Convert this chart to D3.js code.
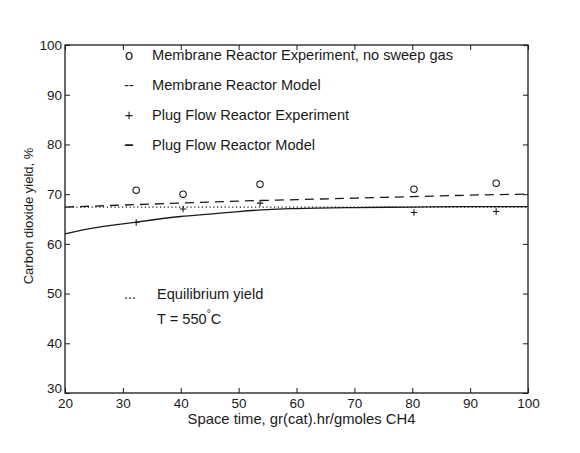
<!DOCTYPE html>
<html><head><meta charset="utf-8">
<script src="https://cdn.jsdelivr.net/npm/d3@7/dist/d3.min.js"></script>
<style>
body{margin:0;background:#fff;}
text{font-family:"Liberation Sans",Arial,Helvetica,sans-serif;fill:#1a1a1a;}
</style></head><body>
<svg id="c" width="580" height="453"></svg>
<script>
// Data
const xTicks = [20,30,40,50,60,70,80,90,100];
const yTicks = [30,40,50,60,70,80,90,100];
const membraneExpX = [32.3, 40.4, 53.7, 80.3, 94.5];
const membraneExpY = [70.8, 70.0, 72.0, 71.0, 72.2];
const plugExpX = [32.3, 40.4, 53.7, 80.3, 94.5];
const plugExpY = [64.3, 67.0, 68.2, 66.3, 66.5];
const membraneModelX = [20,30,40,50,60,70,80,90,100];
const membraneModelY = [67.4,67.8,68.2,68.6,68.9,69.2,69.5,69.8,70.0];
const plugModelX = [20,25,30,35,40,45,50,55,60,70,80,90,100];
const plugModelY = [62.0,63.2,64.0,64.8,65.5,66.0,66.5,66.9,67.1,67.3,67.4,67.5,67.5];
const equilX = [20,100];
const equilY = [67.4,67.4];
const legendLabels = ["Membrane Reactor Experiment, no sweep gas","Membrane Reactor Model","Plug Flow Reactor Experiment","Plug Flow Reactor Model"];
const legendSymbols = ["o","--","+","\u2013"];

const svg = d3.select("#c");
const L=65,R=528,T=45,B=393;
const x = d3.scaleLinear().domain([20,100]).range([L,R]);
const y = d3.scaleLinear().domain([30,100]).range([B,T]);
const ink = "#1a1a1a";
const FF = "Liberation Sans, Arial, sans-serif";

// frame
svg.append("rect").attr("x",L).attr("y",T).attr("width",R-L).attr("height",B-T)
  .attr("fill","none").attr("stroke",ink).attr("stroke-width",1.3);

// axes with inward ticks
const gB = svg.append("g").attr("transform",`translate(0,${B})`)
  .call(d3.axisBottom(x).tickValues(xTicks).tickSizeInner(-5).tickSizeOuter(0).tickPadding(5));
const gT = svg.append("g").attr("transform",`translate(0,${T})`)
  .call(d3.axisTop(x).tickValues(xTicks).tickSizeInner(-5).tickSizeOuter(0).tickFormat(""));
const gL = svg.append("g").attr("transform",`translate(${L},0)`)
  .call(d3.axisLeft(y).tickValues(yTicks).tickSizeInner(-5).tickSizeOuter(0).tickPadding(3));
const gR = svg.append("g").attr("transform",`translate(${R},0)`)
  .call(d3.axisRight(y).tickValues(yTicks).tickSizeInner(-5).tickSizeOuter(0).tickFormat(""));
[gB,gT,gL,gR].forEach(g=>{
  g.select(".domain").remove();
  g.selectAll("line").attr("stroke",ink).attr("stroke-width",1);
  g.selectAll("text").attr("font-size",13.5).attr("fill",ink).style("font-family",FF);
});
gL.selectAll(".tick text").filter(d=>d===30).attr("dy","-0.05em");

const line = d3.line().x(d=>x(d[0])).y(d=>y(d[1]));
const plot = svg.append("g");
plot.append("path").datum(d3.zip(equilX,equilY)).attr("d",line)
  .attr("fill","none").attr("stroke",ink).attr("stroke-width",1.2).attr("stroke-dasharray","1.2,2.6");
plot.append("path").datum(d3.zip(membraneModelX,membraneModelY)).attr("d",line.curve(d3.curveMonotoneX))
  .attr("fill","none").attr("stroke",ink).attr("stroke-width",1.3).attr("stroke-dasharray","9,6");
plot.append("path").datum(d3.zip(plugModelX,plugModelY)).attr("d",line.curve(d3.curveMonotoneX))
  .attr("fill","none").attr("stroke",ink).attr("stroke-width",1.3);

plot.selectAll("circle.m").data(d3.zip(membraneExpX,membraneExpY)).join("circle")
  .attr("cx",d=>x(d[0])).attr("cy",d=>y(d[1])).attr("r",3.2)
  .attr("fill","none").attr("stroke",ink).attr("stroke-width",1.1);
plot.selectAll("path.p").data(d3.zip(plugExpX,plugExpY)).join("path").attr("class","p")
  .attr("d",d=>{const cx=x(d[0]),cy=y(d[1]);return `M${cx-3.2},${cy}H${cx+3.2}M${cx},${cy-3.2}V${cy+3.2}`;})
  .attr("stroke",ink).attr("stroke-width",1.1).attr("fill","none");

// legend
const legY = [55,85,115,145];
legendLabels.forEach((t,i)=>{
  svg.append("text").attr("x",129).attr("y",legY[i]+5).attr("text-anchor","middle")
    .attr("font-size",i===3?16:14.5).attr("font-weight",i===3?"bold":"normal").text(legendSymbols[i]);
  svg.append("text").attr("x",152).attr("y",legY[i]+5).attr("font-size",14.6).text(t);
});
svg.append("text").attr("x",130).attr("y",299).attr("text-anchor","middle").attr("font-size",14.5).text("...");
svg.append("text").attr("x",157).attr("y",299).attr("font-size",14.6).text("Equilibrium yield");
const tt = svg.append("text").attr("x",157).attr("y",324).attr("font-size",14.6);
tt.append("tspan").text("T = 550");
tt.append("tspan").attr("dy",-7).attr("font-size",10).text("\u00B0");
tt.append("tspan").attr("dy",7).text("C");

// axis titles
svg.append("text").attr("x",(L+R)/2+5).attr("y",424).attr("text-anchor","middle").attr("font-size",14.8)
  .text("Space time, gr(cat).hr/gmoles CH4");
svg.append("text").attr("transform",`translate(33,216) rotate(-90)`).attr("text-anchor","middle")
  .attr("font-size",13).text("Carbon dioxide yield, %");
</script></body></html>
